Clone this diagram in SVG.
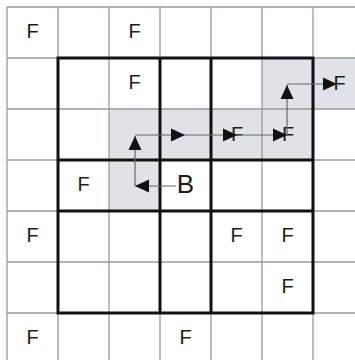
<svg xmlns="http://www.w3.org/2000/svg" width="355" height="360" viewBox="0 0 355 360">
<defs>
<style>
.thin{stroke:#9c9897;stroke-width:1.3;fill:none}
.thick{stroke:#111;stroke-width:3;fill:none;stroke-linecap:square}
.shade{fill:#dfe2e6}
.lbl{font-family:"Liberation Sans",Arial,sans-serif;font-size:20px;fill:#1c1c1c;text-anchor:middle}
.big{font-size:26px}
.conn{stroke:#666;stroke-width:1.2;fill:none;marker-end:url(#ah)}
</style>
<marker id="ah" markerUnits="userSpaceOnUse" markerWidth="15" markerHeight="14" refX="14" refY="7" orient="auto">
<path d="M0,0.5 L14,7 L0,13.5 z" fill="#111"/>
</marker>
</defs>
<rect width="355" height="360" fill="#fff"/>
<g id="shading">
<rect class="shade" x="109" y="109" width="51" height="102"/>
<rect class="shade" x="160" y="109" width="153" height="51"/>
<rect class="shade" x="262" y="58" width="51" height="51"/>
<rect class="shade" x="313" y="58" width="51" height="51"/>
</g>
<g id="grid-thin">
<path class="thin" d="M7,7V370M58,7V370M109,7V370M160,7V370M211,7V370M262,7V370M313,7V370M7,7H370M7,58H370M7,109H370M7,160H370M7,211H370M7,262H370M7,313H370"/>
</g>
<g id="grid-thick">
<path class="thick" d="M58,58H313V313H58Z M160,58V313 M211,58V313 M58,160H313 M58,211H313"/>
</g>
<g id="n-r0c0"><text class="lbl" x="32.5" y="38">F</text></g>
<g id="n-r0c2"><text class="lbl" x="134.5" y="38">F</text></g>
<g id="n-r1c2"><text class="lbl" x="134.5" y="89">F</text></g>
<g id="n-r1c6"><text class="lbl" x="339.5" y="90">F</text></g>
<g id="n-r2c4"><text class="lbl" x="237" y="141">F</text></g>
<g id="n-r2c5"><text class="lbl" x="288" y="141">F</text></g>
<g id="n-r3c1"><text class="lbl" x="83.5" y="191">F</text></g>
<g id="n-r3c3"><text class="lbl big" x="185.5" y="193">B</text></g>
<g id="n-r4c0"><text class="lbl" x="32.5" y="242">F</text></g>
<g id="n-r4c4"><text class="lbl" x="236.5" y="242">F</text></g>
<g id="n-r4c5"><text class="lbl" x="287.5" y="242">F</text></g>
<g id="n-r5c5"><text class="lbl" x="287.5" y="293">F</text></g>
<g id="n-r6c0"><text class="lbl" x="32.5" y="344">F</text></g>
<g id="n-r6c3"><text class="lbl" x="185.5" y="344">F</text></g>
<g id="connectors">
<path class="conn" d="M176,186H135"/>
<path class="conn" d="M135,186V136"/>
<path class="conn" d="M135,135H185"/>
<path class="conn" d="M185,135H237"/>
<path class="conn" d="M237,135H287"/>
<path class="conn" d="M287,135V85"/>
<path class="conn" d="M287,84H337"/>
</g>
</svg>
